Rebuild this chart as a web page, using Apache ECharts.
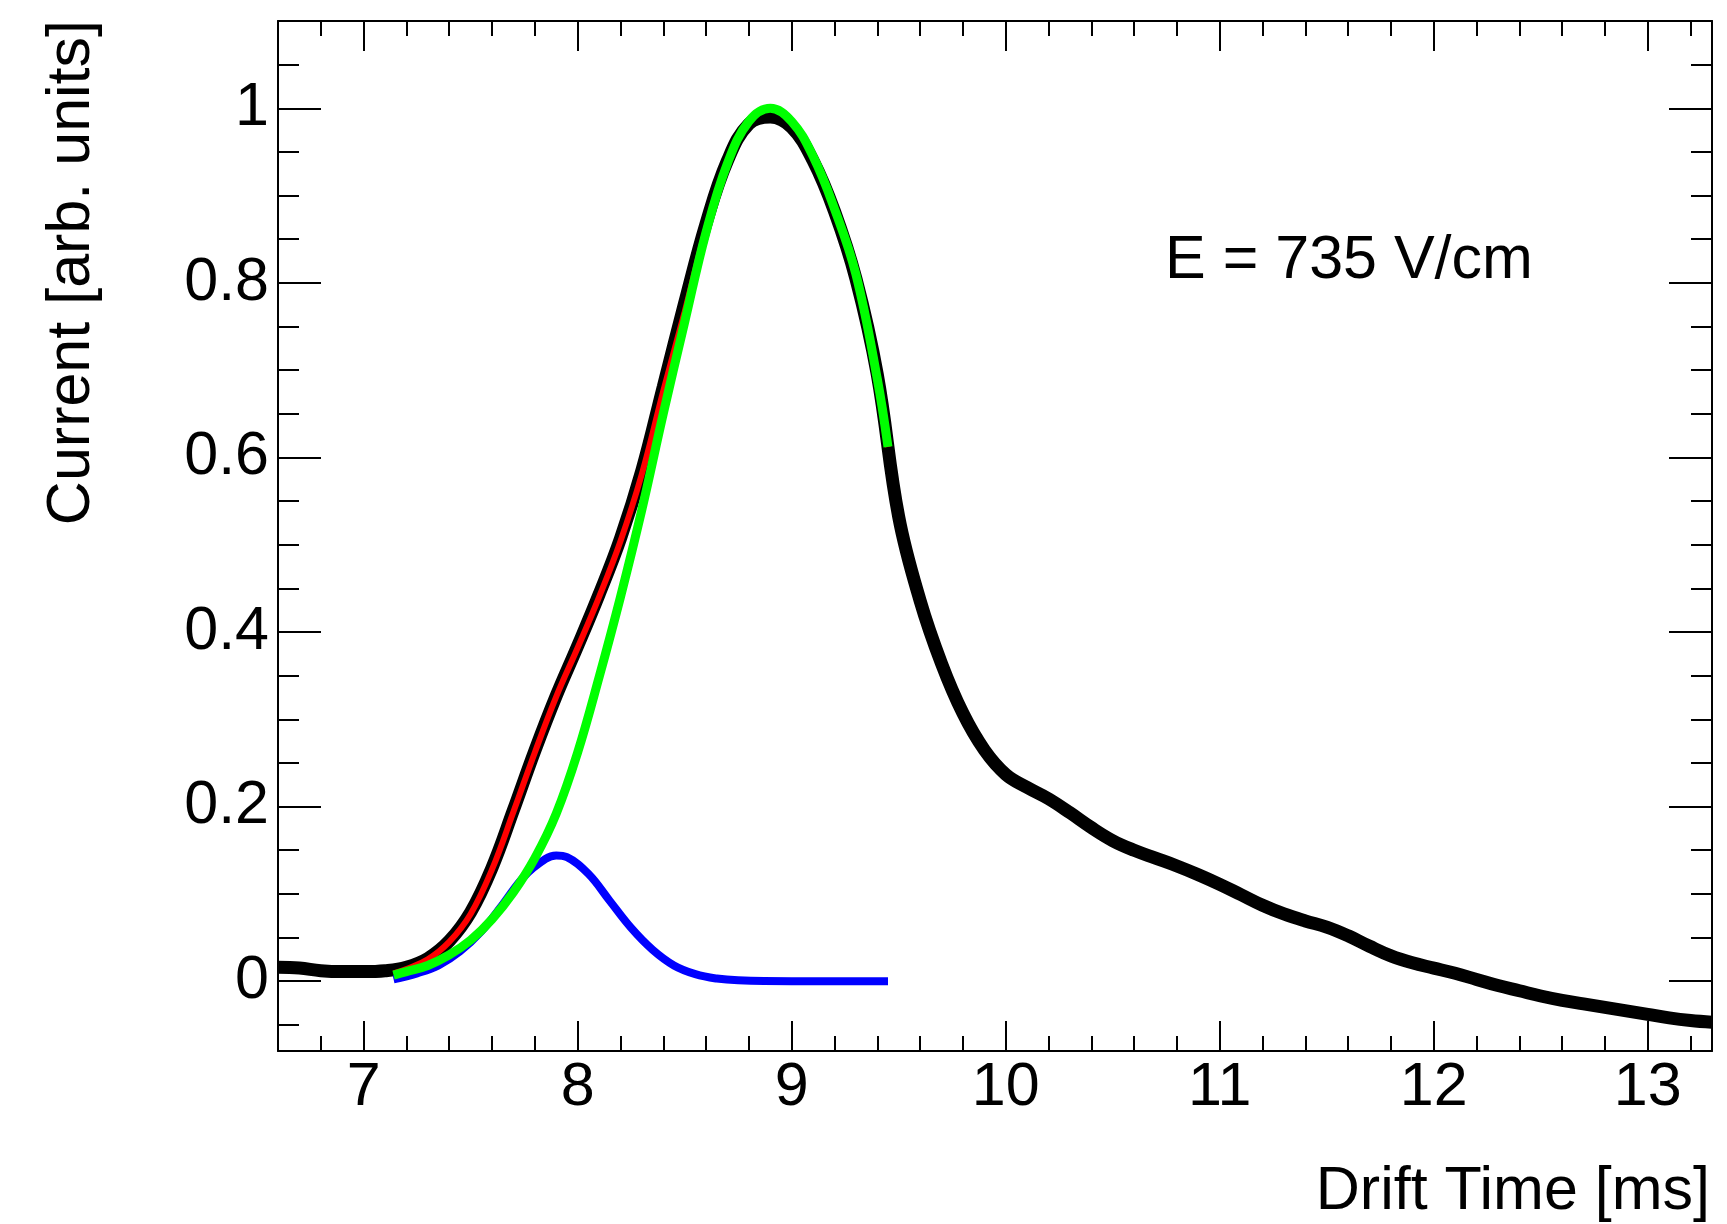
<!DOCTYPE html>
<html>
<head>
<meta charset="utf-8">
<script src="https://cdn.jsdelivr.net/npm/echarts@6/dist/echarts.min.js"></script>
<style>
html,body{margin:0;padding:0;background:#fff;}
#chart{width:1727px;height:1224px;}
</style>
</head>
<body>
<div id="chart"></div>
<script>
// ---- data ----
const dataTime = [6.6,6.7,6.8,6.9,7.0,7.1,7.2,7.3,7.4,7.5,7.6,7.7,7.8,7.9,8.0,8.1,8.2,8.3,8.4,8.5,8.6,8.7,8.8,8.9,9.0,9.1,9.2,9.3,9.4,9.5,9.6,9.7,9.8,9.9,10.0,10.1,10.2,10.3,10.4,10.5,10.6,10.7,10.8,10.9,11.0,11.1,11.2,11.3,11.4,11.5,11.6,11.7,11.8,11.9,12.0,12.1,12.2,12.3,12.4,12.5,12.6,12.7,12.8,12.9,13.0,13.1,13.2,13.3];
const dataCurrent = [0.016,0.015,0.012,0.011,0.011,0.012,0.016,0.026,0.046,0.079,0.130,0.196,0.264,0.327,0.384,0.443,0.507,0.585,0.681,0.777,0.868,0.940,0.982,0.990,0.978,0.940,0.882,0.805,0.695,0.532,0.436,0.364,0.307,0.265,0.237,0.222,0.209,0.193,0.176,0.161,0.150,0.141,0.132,0.122,0.111,0.099,0.087,0.077,0.069,0.062,0.052,0.040,0.029,0.021,0.015,0.009,0.002,-0.005,-0.011,-0.017,-0.022,-0.026,-0.030,-0.034,-0.038,-0.042,-0.045,-0.047];

const fitTime = [7.14,7.2,7.3,7.4,7.5,7.6,7.7,7.8,7.9,8.0,8.1,8.2,8.3,8.4,8.5,8.6,8.7,8.8,8.9,9.0,9.1,9.2,9.3,9.4,9.45];
const totalFit = [0.009,0.014,0.025,0.045,0.077,0.128,0.194,0.262,0.326,0.382,0.440,0.504,0.581,0.676,0.767,0.862,0.939,0.986,1.0,0.985,0.945,0.885,0.810,0.690,0.612];
const mainPeak = [0.007,0.011,0.018,0.030,0.047,0.071,0.102,0.141,0.192,0.262,0.348,0.440,0.540,0.650,0.755,0.858,0.937,0.985,1.0,0.985,0.945,0.885,0.810,0.690,0.612];

const blueTime = [7.14,7.25,7.35,7.45,7.55,7.65,7.75,7.85,7.9,7.95,8.05,8.15,8.25,8.35,8.45,8.55,8.65,8.75,9.0,9.45];
const smallPeak = [0.002,0.009,0.018,0.034,0.057,0.088,0.120,0.140,0.144,0.142,0.123,0.092,0.061,0.036,0.018,0.008,0.003,0.001,0.0,0.0];

const annotation = 'E = 735 V/cm';
const xTitle = 'Drift Time [ms]';
const yTitle = 'Current [arb. units]';

function zip(xs, ys){ return xs.map((x,i)=>[x, ys[i]]); }

const FONT = '"Liberation Sans", Arial, Helvetica, sans-serif';
const chart = echarts.init(document.getElementById('chart'), null, {renderer:'canvas'});

const baseX = {
  type:'value', min:6.6, max:13.3,
  splitLine:{show:false},
  axisLine:{show:true, onZero:false, lineStyle:{color:'#000', width:2}},
  axisTick:{show:true, inside:true, length:30, lineStyle:{color:'#000', width:2}},
  minorTick:{show:true, splitNumber:5, length:15, lineStyle:{color:'#000', width:2}}
};
const baseY = {
  type:'value', min:-0.08, max:1.1,
  splitLine:{show:false},
  axisLine:{show:true, onZero:false, lineStyle:{color:'#000', width:2}},
  axisTick:{show:true, inside:true, length:43, lineStyle:{color:'#000', width:2}},
  minorTick:{show:true, splitNumber:4, length:21, lineStyle:{color:'#000', width:2}}
};

chart.setOption({
  backgroundColor:'#fff',
  animation:false,
  grid:{left:278, right:15, top:21, bottom:173, containLabel:false, outerBoundsMode:'none'},
  xAxis:[
    Object.assign({}, baseX, {
      position:'bottom',
      axisLabel:{show:true, fontSize:61, fontFamily:FONT, color:'#000', margin:7, showMinLabel:false, showMaxLabel:false}
    }),
    Object.assign({}, baseX, {position:'top', axisLabel:{show:false}})
  ],
  yAxis:[
    Object.assign({}, baseY, {
      position:'left',
      axisLabel:{show:true, fontSize:61, fontFamily:FONT, color:'#000', margin:9, showMinLabel:false, showMaxLabel:false}
    }),
    Object.assign({}, baseY, {position:'right', axisLabel:{show:false}})
  ],
  graphic:[
    {type:'text', x:1165, y:261, z:100,
      style:{text:annotation, font:'61px ' + FONT, fill:'#000', textAlign:'left', textVerticalAlign:'middle', verticalAlign:'middle'}},
    {type:'text', x:1710, y:1192, z:100,
      style:{text:xTitle, font:'61px ' + FONT, fill:'#000', textAlign:'right', align:'right', textVerticalAlign:'middle', verticalAlign:'middle'}},
    {type:'text', x:72, y:20, rotation:Math.PI/2, z:100,
      style:{text:yTitle, font:'61px ' + FONT, fill:'#000', textAlign:'right', align:'right', textVerticalAlign:'middle', verticalAlign:'middle'}}
  ],
  series:[
    {type:'line', name:'data', data:zip(dataTime, dataCurrent), showSymbol:false, smooth:0.4, z:2,
      lineStyle:{color:'#000', width:13}, itemStyle:{color:'#000'}},
    {type:'line', name:'total fit', data:zip(fitTime, totalFit), showSymbol:false, smooth:0.4, z:3,
      lineStyle:{color:'#ff0000', width:6}, itemStyle:{color:'#ff0000'}},
    {type:'line', name:'peak 1', data:zip(blueTime, smallPeak), showSymbol:false, smooth:0.4, z:4,
      lineStyle:{color:'#0000ff', width:8}, itemStyle:{color:'#0000ff'}},
    {type:'line', name:'peak 2', data:zip(fitTime, mainPeak), showSymbol:false, smooth:0.4, z:5,
      lineStyle:{color:'#00ff00', width:9}, itemStyle:{color:'#00ff00'}}
  ]
});
</script>
</body>
</html>
